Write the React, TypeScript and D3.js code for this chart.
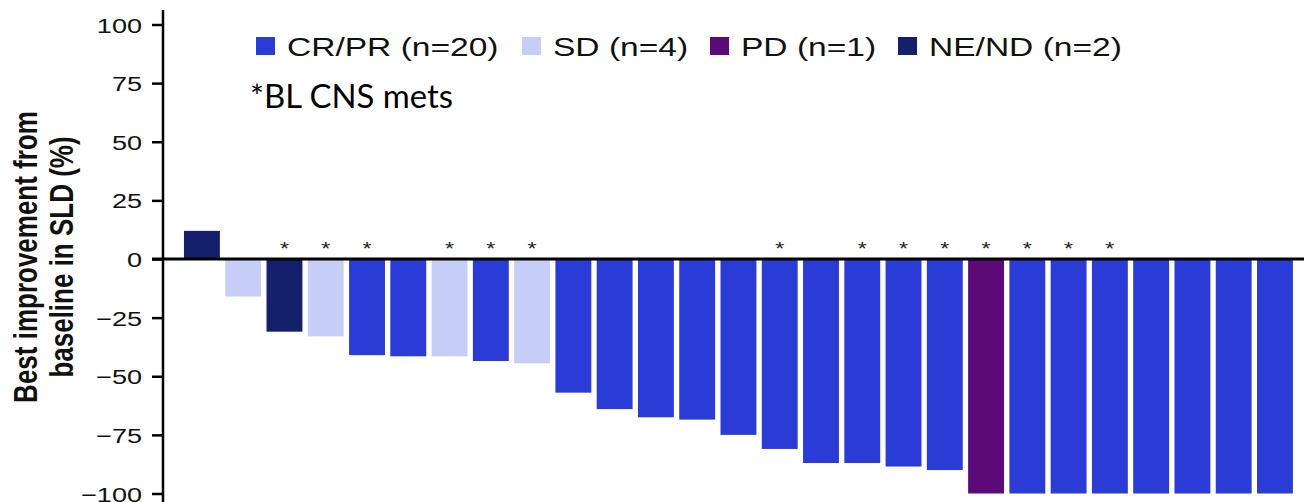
import React, { useEffect, useRef } from 'react';
import * as d3 from 'd3';

// one entry per patient, sorted by best change
const patients = ['P01', 'P02', 'P03', 'P04', 'P05', 'P06', 'P07', 'P08', 'P09', 'P10', 'P11', 'P12', 'P13', 'P14',
    'P15', 'P16', 'P17', 'P18', 'P19', 'P20', 'P21', 'P22', 'P23', 'P24', 'P25', 'P26', 'P27'];
const bestChange = [12, -16, -31, -33, -41, -41.5, -41.5, -43.5, -44.5, -57, -64, -67.5, -68.5, -75, -81, -87, -87,
    -88.5, -90, -100, -100, -100, -100, -100, -100, -100, -100];
const response = ['NE/ND', 'SD', 'NE/ND', 'SD', 'CR/PR', 'CR/PR', 'SD', 'CR/PR', 'SD', 'CR/PR', 'CR/PR', 'CR/PR',
    'CR/PR', 'CR/PR', 'CR/PR', 'CR/PR', 'CR/PR', 'CR/PR', 'CR/PR', 'PD', 'CR/PR', 'CR/PR', 'CR/PR', 'CR/PR', 'CR/PR',
    'CR/PR', 'CR/PR'];
const cnsMets = [false, false, true, true, true, false, true, true, true, false, false, false, false, false, true,
    false, true, true, true, true, true, true, true, false, false, false, false];

const responseKeys = ['CR/PR', 'SD', 'PD', 'NE/ND'];
const responseColors = ['#2b3bd6', '#c6cdf6', '#5b0a77', '#15206c'];
const legendLabels = ['CR/PR (n=20)', 'SD (n=4)', 'PD (n=1)', 'NE/ND (n=2)'];
const yTicks = [100, 75, 50, 25, 0, -25, -50, -75, -100];

const SX = 1.29; // the source figure is stretched horizontally

const App: React.FC = () => {
    const ref = useRef<SVGSVGElement>(null);

    useEffect(() => {
        const svg = d3.select(ref.current);
        svg.selectAll("*").remove();

        const x = d3.scaleBand().domain(patients).range([181.3, 1295.6]).paddingInner(0.13).paddingOuter(0.065);
        const y = d3.scaleLinear().domain([-100, 100]).range([493.5, 24.5]);
        const color = d3.scaleOrdinal<string, string>().domain(responseKeys).range(responseColors);

        const rows = patients.map((p, i) => ({ p, v: bestChange[i], r: response[i], cns: cnsMets[i] }));

        svg.append("g").selectAll("rect")
            .data(rows)
            .enter().append("rect")
            .attr("x", d => x(d.p)!)
            .attr("y", d => y(Math.max(0, d.v)))
            .attr("width", x.bandwidth())
            .attr("height", d => Math.abs(y(d.v) - y(0)))
            .attr("fill", d => color(d.r));

        // asterisks for baseline CNS metastases
        svg.append("g").selectAll("text")
            .data(rows.filter(d => d.cns))
            .enter().append("text")
            .attr("transform", d => `translate(${x(d.p)! + x.bandwidth() / 2},${y(0) - 4.5}) scale(${SX},1)`)
            .attr("text-anchor", "middle")
            .attr("font-family", "Liberation Sans, Arial, sans-serif")
            .attr("font-size", 18)
            .attr("fill", "#222")
            .text("*");

        // zero line
        svg.append("line")
            .attr("x1", 152).attr("x2", 1304)
            .attr("y1", y(0)).attr("y2", y(0))
            .attr("stroke", "#000").attr("stroke-width", 3);

        // y axis
        const axisX = 163;
        const yAxis = svg.append("g")
            .attr("transform", `translate(${axisX},0)`)
            .call(d3.axisLeft(y).tickValues(yTicks).tickSize(11).tickSizeOuter(0));
        yAxis.select(".domain").remove();
        yAxis.selectAll(".tick line").attr("stroke", "#000").attr("stroke-width", 2.5);
        yAxis.selectAll(".tick text")
            .attr("x", -21 / SX)
            .attr("dy", "0.36em")
            .attr("transform", `scale(${SX},1)`)
            .attr("font-family", "Liberation Sans, Arial, sans-serif")
            .attr("font-size", 21)
            .attr("fill", "#111");
        yAxis.append("line")
            .attr("x1", 0).attr("x2", 0)
            .attr("y1", 10).attr("y2", 502)
            .attr("stroke", "#000").attr("stroke-width", 2.5);

        // y axis title (two lines)
        const titleLines = ["Best improvement from", "baseline in SLD (%)"];
        svg.append("g").selectAll("text")
            .data(titleLines)
            .enter().append("text")
            .attr("transform", (_, i) => `translate(${37 + i * 36},257) scale(${SX},1) rotate(-90)`)
            .attr("text-anchor", "middle")
            .attr("font-family", "Liberation Sans, Arial, sans-serif")
            .attr("font-weight", "bold")
            .attr("font-size", 26)
            .attr("fill", "#111")
            .text(d => d);

        // legend
        const legendX = [256, 522, 710, 898];
        const legend = svg.append("g").selectAll("g")
            .data(legendLabels)
            .enter().append("g")
            .attr("transform", (_, i) => `translate(${legendX[i]},37)`);
        legend.append("rect")
            .attr("width", 19).attr("height", 18)
            .attr("fill", (_, i) => responseColors[i]);
        legend.append("text")
            .attr("transform", `translate(31,18.5) scale(${SX},1)`)
            .attr("font-family", "Liberation Sans, Arial, sans-serif")
            .attr("font-size", 26)
            .attr("fill", "#111")
            .text(d => d);

        svg.append("text")
            .attr("x", 250).attr("y", 108)
            .attr("font-family", "Lato, 'Open Sans', sans-serif")
            .attr("font-size", 33)
            .attr("textLength", 203)
            .attr("lengthAdjust", "spacingAndGlyphs")
            .attr("fill", "#000")
            .text("*BL CNS mets");
    }, []);

    return <svg ref={ref} width="1304" height="502"
        style={{ position: 'absolute', left: 0, top: 0, background: '#fff' }}></svg>;
};

export default App;
